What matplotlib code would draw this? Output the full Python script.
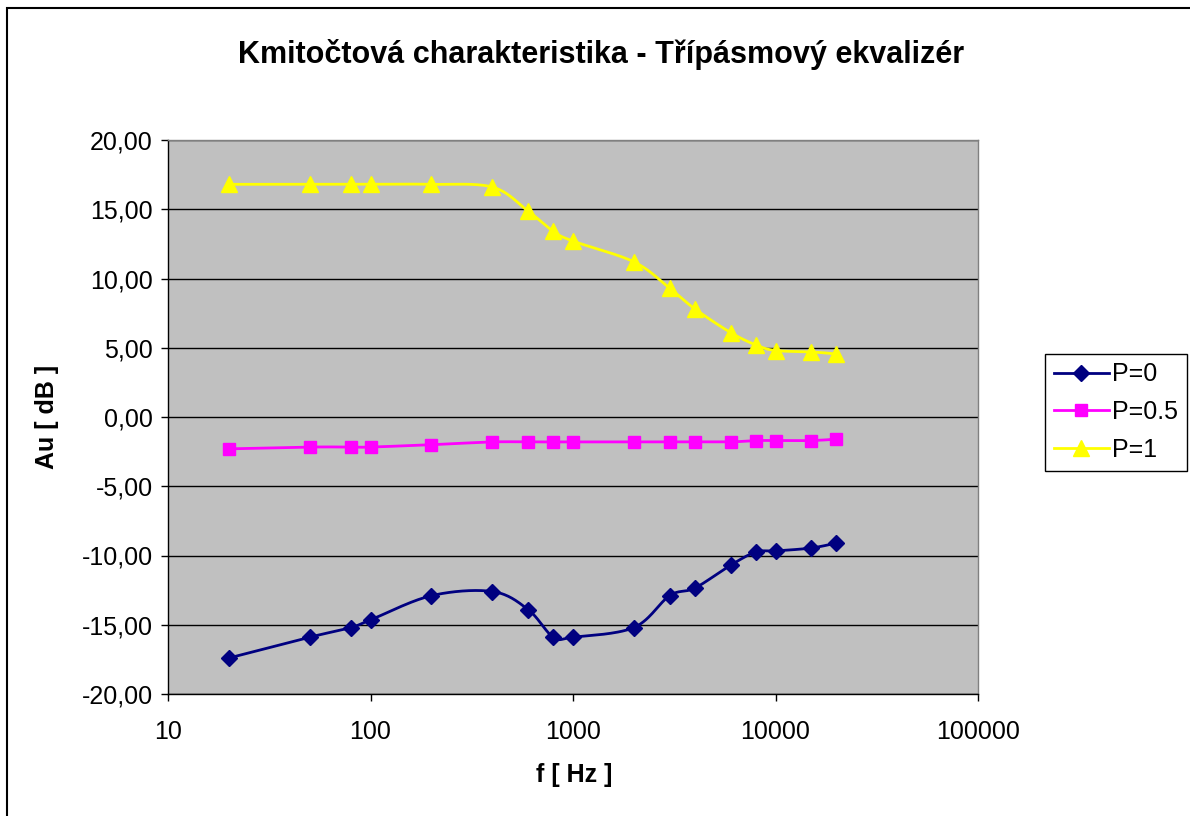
import numpy as np
import matplotlib
matplotlib.use("Agg")
import matplotlib.pyplot as plt
from matplotlib.patches import Rectangle
from matplotlib.ticker import FixedLocator, FuncFormatter, NullLocator

plt.rcParams['font.family'] = ['Liberation Sans', 'DejaVu Sans']

freq = [20, 50, 80, 100, 200, 400, 600, 800, 1000, 2000, 3000, 4000, 6000, 8000, 10000, 15000, 20000]
p0 = [-17.4, -15.9, -15.2, -14.65, -12.9, -12.6, -13.9, -15.9, -15.9, -15.2, -12.9, -12.35, -10.7, -9.75, -9.67, -9.46, -9.1]
p05 = [-2.3, -2.17, -2.17, -2.17, -2.0, -1.8, -1.8, -1.8, -1.8, -1.8, -1.8, -1.8, -1.8, -1.7, -1.7, -1.7, -1.6]
p1 = [16.8, 16.8, 16.8, 16.8, 16.8, 16.6, 14.87, 13.4, 12.7, 11.2, 9.3, 7.8, 6.1, 5.2, 4.8, 4.7, 4.55]

series_labels = ['P=0', 'P=0.5', 'P=1']
title = 'Kmitočtová charakteristika - Třípásmový ekvalizér'
xlabel = 'f [ Hz ]'
ylabel = 'Au [ dB ]'
xticks = [10, 100, 1000, 10000, 100000]
yticks = [-20, -15, -10, -5, 0, 5, 10, 15, 20]


def smooth(x, y, n=30, k=1 / 6.0):
    lx = np.log10(np.asarray(x, float))
    yy = np.asarray(y, float)
    P = np.column_stack([lx, yy])
    pts = np.vstack([P[0], P, P[-1]])
    out = []
    t = np.linspace(0, 1, n)[:, None]
    for i in range(1, len(pts) - 2):
        p0_, p1_, p2_, p3_ = pts[i - 1], pts[i], pts[i + 1], pts[i + 2]
        c1 = p1_ + (p2_ - p0_) * k
        c2 = p2_ - (p3_ - p1_) * k
        seg = ((1 - t) ** 3) * p1_ + 3 * ((1 - t) ** 2) * t * c1 + 3 * (1 - t) * t ** 2 * c2 + t ** 3 * p2_
        out.append(seg if i == 1 else seg[1:])
    out = np.vstack(out)
    return 10 ** out[:, 0], out[:, 1]


fig = plt.figure(figsize=(11.9, 8.16), dpi=100)
fig.patch.set_facecolor('white')
fig.patches.append(Rectangle((7 / 1190, -0.05), 1.2, 1 - 8 / 816 + 0.05, transform=fig.transFigure,
                             fill=False, edgecolor='black', linewidth=1.5, zorder=0))

ax = fig.add_axes([168 / 1190, 1 - 694 / 816, (978 - 168) / 1190, (694 - 140) / 816])
ax.set_facecolor('#C0C0C0')
ax.set_xscale('log')
ax.set_xlim(10, 100000)
ax.set_ylim(-20, 20)
ax.xaxis.set_major_locator(FixedLocator(xticks))
ax.xaxis.set_minor_locator(NullLocator())
ax.xaxis.set_major_formatter(FuncFormatter(lambda v, p: f'{int(round(v))}'))
ax.yaxis.set_major_locator(FixedLocator(yticks))
ax.yaxis.set_major_formatter(FuncFormatter(lambda v, p: f'{v:.2f}'.replace('.', ',')))
ax.yaxis.grid(True, color='black', linewidth=1.0)
ax.set_axisbelow(True)
for s in ['top', 'right']:
    ax.spines[s].set_color('#808080')
    ax.spines[s].set_linewidth(1.0)
for s in ['left', 'bottom']:
    ax.spines[s].set_color('black')
    ax.spines[s].set_linewidth(1.0)
ax.tick_params(axis='both', direction='out', length=5, width=1, labelsize=18, colors='black')
ax.tick_params(axis='x', pad=14)
ax.tick_params(axis='y', pad=6)

styles = [
    dict(color='#000080', marker='D', ms=8),
    dict(color='#FF00FF', marker='s', ms=9),
    dict(color='#FFFF00', marker='^', ms=12),
]
for yv, lab, st in zip([p0, p05, p1], series_labels, styles):
    sx, sy = smooth(freq, yv)
    ax.plot(sx, sy, color=st['color'], linewidth=2, zorder=3)
    ax.plot(freq, yv, linestyle='none', marker=st['marker'], markersize=st['ms'],
            color=st['color'], markeredgecolor=st['color'], zorder=4)
    ax.plot([], [], color=st['color'], linewidth=2, marker=st['marker'], markersize=st['ms'],
            markeredgecolor=st['color'], label=lab)

fig.text(601 / 1190, 1 - 54 / 816, title, ha='center', va='center', fontsize=22, fontweight='bold')
fig.text(574 / 1190, 1 - 775 / 816, xlabel, ha='center', va='center', fontsize=18, fontweight='bold')
fig.text(47 / 1190, 1 - 417 / 816, ylabel, ha='center', va='center', fontsize=18, fontweight='bold', rotation=90)

leg = fig.legend(loc='center left', bbox_to_anchor=(1045 / 1190, 1 - 412 / 816), fontsize=18,
                 frameon=True, fancybox=False, edgecolor='black', framealpha=1, borderaxespad=0,
                 handlelength=2.2, borderpad=0.35, labelspacing=0.55, handletextpad=0.15)
leg.get_frame().set_linewidth(1.0)

fig.savefig('out.png', dpi=100, facecolor='white')
